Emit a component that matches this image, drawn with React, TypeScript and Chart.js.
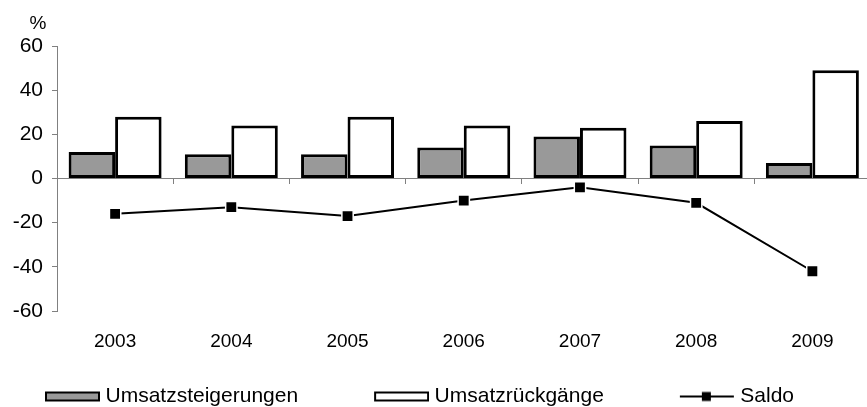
import { useEffect, useRef } from 'react';
import { Chart, registerables } from 'chart.js';

Chart.register(...registerables);

const categories = ['2003', '2004', '2005', '2006', '2007', '2008', '2009'];
const increases = [12, 11, 11, 14, 19, 15, 7];
const decreases = [28, 24, 28, 24, 23, 26, 49];
const balance = [-16, -13, -17, -10, -4, -11, -42];
const yTicks = [-60, -40, -20, 0, 20, 40, 60];
const seriesNames = ['Umsatzsteigerungen', 'Umsatzrückgänge', 'Saldo'];

const FONT = '"Liberation Sans", Arial, Helvetica, sans-serif';
const GRAY_FILL = '#999999';
const AXIS_GRAY = '#808080';

function makeBoxImage(fill: string) {
  const c = document.createElement('canvas');
  c.width = 126;
  c.height = 14;
  const g = c.getContext('2d')!;
  g.fillStyle = fill;
  g.fillRect(72, 3, 53, 8);
  g.strokeStyle = '#000';
  g.lineWidth = 2;
  g.strokeRect(72, 3, 53, 8);
  return c;
}

function makeLineImage() {
  const c = document.createElement('canvas');
  c.width = 126;
  c.height = 14;
  const g = c.getContext('2d')!;
  g.strokeStyle = '#000';
  g.lineWidth = 2;
  g.beginPath();
  g.moveTo(71, 7);
  g.lineTo(125, 7);
  g.stroke();
  g.fillStyle = '#000';
  g.fillRect(93, 2.5, 9, 9);
  return c;
}

const percentPlugin = {
  id: 'percentLabel',
  afterDraw(chart: any) {
    const { ctx, chartArea } = chart;
    ctx.save();
    ctx.font = `19px ${FONT}`;
    ctx.fillStyle = '#000';
    ctx.textAlign = 'center';
    ctx.textBaseline = 'middle';
    ctx.fillText('%', chartArea.left - 19, chartArea.top - 22);
    ctx.restore();
  },
};

const legendShiftPlugin = {
  id: 'legendShift',
  afterLayout(chart: any) {
    const l = chart.legend;
    if (!l) return;
    l.left -= 31;
    l.right -= 31;
    l.top += 10;
    l.bottom += 10;
  },
};

export default function App() {
  const ref = useRef<HTMLCanvasElement | null>(null);

  useEffect(() => {
    if (!ref.current) return;
    const images = [makeBoxImage(GRAY_FILL), makeBoxImage('#ffffff'), makeLineImage()];
    const chart = new Chart(ref.current, {
      type: 'bar',
      data: {
        labels: categories,
        datasets: [
          {
            type: 'bar',
            label: seriesNames[0],
            data: increases,
            backgroundColor: GRAY_FILL,
            borderColor: '#000',
            borderWidth: 3,
            borderSkipped: false,
            categoryPercentage: 0.8,
            barPercentage: 1.0,
            order: 1,
          },
          {
            type: 'bar',
            label: seriesNames[1],
            data: decreases,
            backgroundColor: '#ffffff',
            borderColor: '#000',
            borderWidth: 3,
            borderSkipped: false,
            categoryPercentage: 0.8,
            barPercentage: 1.0,
            order: 2,
          },
          {
            type: 'line',
            label: seriesNames[2],
            data: balance,
            borderColor: '#000',
            borderWidth: 2,
            pointStyle: 'rect',
            pointRadius: 8,
            pointBackgroundColor: '#000',
            pointBorderColor: '#fff',
            pointBorderWidth: 1.5,
            fill: false,
            tension: 0,
            order: 0,
          } as any,
        ],
      },
      options: {
        responsive: false,
        animation: false,
        events: [],
        layout: { padding: { top: 46, left: 0, right: 0, bottom: 0 } },
        plugins: {
          tooltip: { enabled: false },
          legend: {
            position: 'bottom',
            align: 'start',
            labels: {
              usePointStyle: true,
              pointStyleWidth: 116,
              padding: 10,
              color: '#000',
              font: { family: FONT, size: 21 },
              generateLabels: () =>
                seriesNames.map((name, i) => ({
                  text: name,
                  pointStyle: images[i] as any,
                  fillStyle: '#000',
                  strokeStyle: '#000',
                  lineWidth: 0,
                  hidden: false,
                  datasetIndex: i,
                })),
            },
          },
        },
        scales: {
          x: {
            type: 'category',
            position: 'bottom',
            offset: true,
            grid: { display: false, drawTicks: false },
            border: { display: false },
            ticks: { color: '#000', font: { family: FONT, size: 19 }, padding: 19, maxRotation: 0 },
            afterFit: (s: any) => {
              s.height = 55;
            },
          },
          x2: {
            type: 'category',
            axis: 'x',
            position: { y: 0 } as any,
            offset: true,
            grid: { offset: true, drawOnChartArea: false, drawTicks: true, tickLength: 5, color: AXIS_GRAY, lineWidth: 1 },
            border: { display: true, color: AXIS_GRAY, width: 1 },
            ticks: { display: false },
          },
          y: {
            type: 'linear',
            min: -60,
            max: 60,
            afterBuildTicks: (s: any) => {
              s.ticks = yTicks.map((v) => ({ value: v }));
            },
            grid: { drawOnChartArea: false, drawTicks: true, tickLength: 5, color: AXIS_GRAY },
            border: { display: true, color: AXIS_GRAY, width: 1 },
            ticks: { color: '#000', font: { family: FONT, size: 21 }, padding: 9 },
            afterFit: (s: any) => {
              s.width = 57;
            },
          },
        } as any,
      },
      plugins: [percentPlugin, legendShiftPlugin],
    });
    return () => chart.destroy();
  }, []);

  return (
    <div style={{ position: 'fixed', left: 0, top: 0, width: 867, height: 407, overflow: 'hidden', background: '#fff' }}>
      <canvas ref={ref} width={880} height={407} style={{ display: 'block' }} />
    </div>
  );
}
